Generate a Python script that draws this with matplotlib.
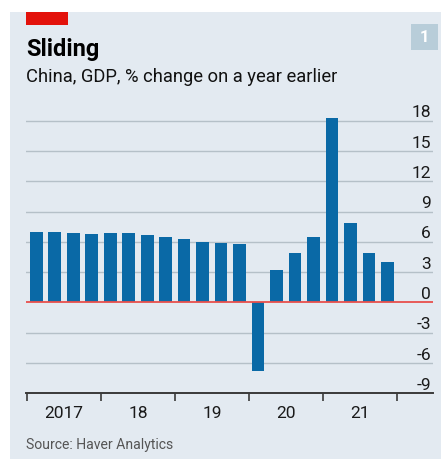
import matplotlib
matplotlib.use("Agg")
import matplotlib.pyplot as plt
from matplotlib.patches import Rectangle
import matplotlib.transforms as mtransforms

# ---- data ----
quarters = [f"{y} Q{q}" for y in range(2017, 2022) for q in range(1, 5)]
gdp_growth = [7.0, 7.0, 6.9, 6.8, 6.9, 6.9, 6.7, 6.5, 6.3, 6.0, 5.9, 5.8,
              -6.8, 3.2, 4.9, 6.5, 18.3, 7.9, 4.9, 4.0]
year_labels = ["2017", "18", "19", "20", "21"]
y_ticks = [18, 15, 12, 9, 6, 3, 0, -3, -6, -9]

# ---- style ----
W, H = 441, 459
BG = "#e3eaf1"
BLUE = "#0a69a6"
RED = "#e8504c"
GRID = "#b5c0c8"
FONT = ["Roboto", "DejaVu Sans"]

fig = plt.figure(figsize=(W / 100, H / 100), dpi=100)
fig.patch.set_facecolor("white")

def fx(px):
    return px / W

def fy(py):
    return 1 - py / H

# panel background
fig.add_artist(Rectangle((fx(10), 0), 1 - fx(10), fy(12), transform=fig.transFigure,
                         facecolor=BG, edgecolor="none", zorder=-10))
# red tag
fig.add_artist(Rectangle((fx(26), fy(25)), fx(42), 13 / H, transform=fig.transFigure,
                         facecolor="#e3120b", edgecolor="none", zorder=-5))
# number box
fig.add_artist(Rectangle((fx(411), fy(50)), fx(27), 26 / H, transform=fig.transFigure,
                         facecolor="#b8cdd9", edgecolor="none", zorder=-5))
fig.text(fx(424.5), fy(37), "1", color="white", fontsize=12, fontweight="bold",
         ha="center", va="center", family=FONT)

fig.text(fx(26), fy(56), "Sliding", fontsize=17, fontweight="bold", family=FONT,
         color="black", va="baseline", ha="left")
fig.text(fx(26), fy(82), "China, GDP, % change on a year earlier", fontsize=13.2,
         family=FONT, color="#111111", va="baseline", ha="left")
fig.text(fx(26), fy(449), "Source: Haver Analytics", fontsize=10.1, family=FONT,
         color="#555555", va="baseline", ha="left")

# axes
ax_left, ax_right = 26, 433
ax_bottom, ax_top = 393.3, 110.8
ax = fig.add_axes([fx(ax_left), fy(ax_bottom), fx(ax_right - ax_left),
                   (ax_bottom - ax_top) / H])
ax.set_facecolor("none")
ax.set_zorder(5)

n = len(gdp_growth)
x = list(range(n))
ax.set_xlim(-0.557, n - 1 + 2.47)
ax.set_ylim(-9, 19)

for t in y_ticks:
    if t in (0, -9):
        continue
    ax.axhline(t, color=GRID, lw=1.0, zorder=1)

ax.bar(x, gdp_growth, width=0.69, color=BLUE, zorder=2)
ax.axhline(0, color=RED, lw=1.3, zorder=3)

for s in ["top", "right", "left"]:
    ax.spines[s].set_visible(False)
ax.spines["bottom"].set_color("#3a3a3a")
ax.spines["bottom"].set_linewidth(1.4)
ax.spines["bottom"].set_zorder(4)

ax.set_yticks([])
# y labels above gridlines at right
label_tr = mtransforms.offset_copy(ax.get_yaxis_transform(), fig=fig, x=-2, y=3.5, units="dots")
for t in y_ticks:
    ax.text(1.0, t, f"{t}", transform=label_tr, ha="right", va="baseline",
            fontsize=12.5, family=FONT, color="#1a1a1a")

# x ticks at year boundaries
bounds = [i * 4 - 0.5 for i in range(len(year_labels) + 1)]
ax.set_xticks(bounds)
ax.set_xticklabels([])
ax.tick_params(axis="x", which="major", length=6, width=1.2, color="#3a3a3a", direction="out")
centers = [i * 4 + 1.5 for i in range(len(year_labels))]
ax.set_xticks(centers, minor=True)
ax.set_xticklabels(year_labels, minor=True, fontsize=12.5, family=FONT, color="#1a1a1a")
ax.tick_params(axis="x", which="minor", length=0, pad=9)

fig.savefig("out.png", dpi=100, facecolor=fig.get_facecolor())
